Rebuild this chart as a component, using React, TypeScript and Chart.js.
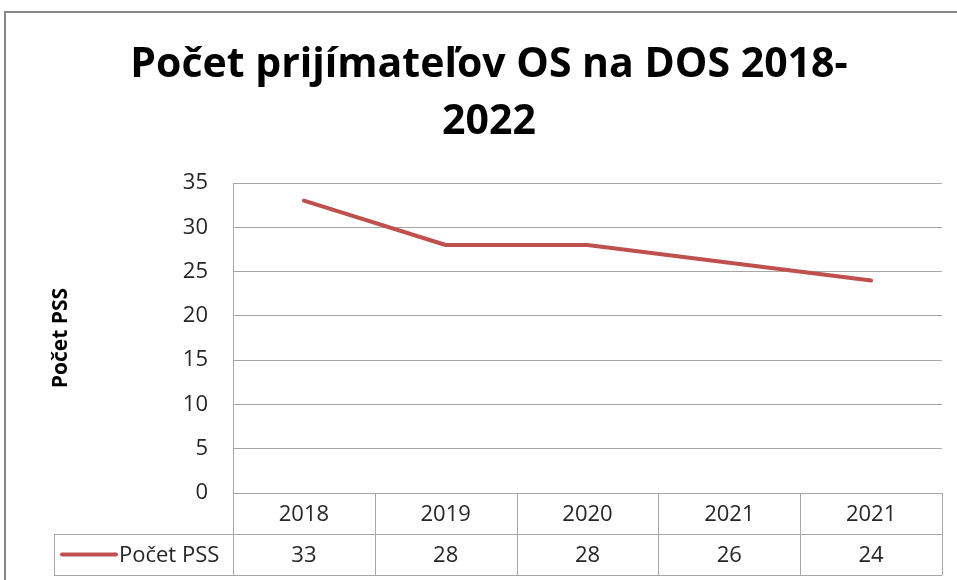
import React, { useEffect, useRef } from "react";
import { Chart, registerables } from "chart.js";

Chart.register(...registerables);

const titleLines = ["Počet prijímateľov OS na DOS 2018-", "2022"];
const yAxisTitle = "Počet PSS";
const seriesName = "Počet PSS";
const categories = ["2018", "2019", "2020", "2021", "2021"];
const values = [33, 28, 28, 26, 24];
const yMin = 0;
const yMax = 35;
const yStep = 5;

const FONT = "'Open Sans', 'Noto Sans', sans-serif";
const GRID = "#a6a6a6";
const LINE = "#c0504d";
const TEXT = "#262626";

const tablePlugin = {
  id: "dataTable",
  beforeDraw(chart: any) {
    const { ctx, width, height } = chart;
    ctx.save();
    ctx.fillStyle = "#ffffff";
    ctx.fillRect(0, 0, width, height);
    ctx.restore();
  },
  afterDraw(chart: any) {
    const { ctx, chartArea } = chart;
    const xs = chart.scales.x;
    const n = categories.length;
    const colW = (chartArea.right - chartArea.left) / n;
    const top = chartArea.bottom;
    const rowH = 41;
    const r1 = top + rowH;
    const r2 = r1 + rowH;
    const legendLeft = 54;

    ctx.save();
    // outer chart border
    ctx.strokeStyle = "#868686";
    ctx.lineWidth = 2;
    ctx.strokeRect(5, 12, 2000, 2000);

    // title
    ctx.fillStyle = "#000000";
    ctx.font = `bold 41px ${FONT}`;
    ctx.textAlign = "center";
    ctx.textBaseline = "middle";
    ctx.fillText(titleLines[0], 489, 65);
    ctx.fillText(titleLines[1], 489, 122);

    ctx.strokeStyle = GRID;
    ctx.lineWidth = 1;
    ctx.beginPath();
    ctx.moveTo(Math.round(chartArea.left) + 0.5, chartArea.top);
    ctx.lineTo(Math.round(chartArea.left) + 0.5, r2);
    ctx.moveTo(chartArea.left, Math.round(top) + 0.5);
    ctx.lineTo(chartArea.right, Math.round(top) + 0.5);
    ctx.moveTo(legendLeft, Math.round(r1) + 0.5);
    ctx.lineTo(chartArea.right, Math.round(r1) + 0.5);
    ctx.moveTo(legendLeft, Math.round(r2) + 0.5);
    ctx.lineTo(chartArea.right, Math.round(r2) + 0.5);
    ctx.moveTo(legendLeft + 0.5, r1);
    ctx.lineTo(legendLeft + 0.5, r2);
    for (let i = 1; i <= n; i++) {
      const x = Math.round(xs.getPixelForValue(i - 1) + colW / 2) + 0.5;
      ctx.moveTo(x, top);
      ctx.lineTo(x, r2);
    }
    ctx.stroke();

    ctx.fillStyle = TEXT;
    ctx.font = `22px ${FONT}`;
    ctx.textAlign = "center";
    ctx.textBaseline = "middle";
    for (let i = 0; i < n; i++) {
      const cx = xs.getPixelForValue(i);
      ctx.fillText(categories[i], cx, top + rowH / 2 + 1);
      ctx.fillText(String(values[i]), cx, r1 + rowH / 2 + 1);
    }

    ctx.strokeStyle = LINE;
    ctx.lineWidth = 4;
    ctx.lineCap = "round";
    ctx.beginPath();
    ctx.moveTo(62, r1 + rowH / 2);
    ctx.lineTo(116, r1 + rowH / 2);
    ctx.stroke();
    ctx.textAlign = "left";
    ctx.fillText(seriesName, 119, r1 + rowH / 2 + 1);
    ctx.restore();
  },
};

export default function App() {
  const ref = useRef<HTMLCanvasElement | null>(null);

  useEffect(() => {
    if (!ref.current) return;
    const chart = new Chart(ref.current, {
      type: "line",
      data: {
        labels: categories,
        datasets: [
          {
            label: seriesName,
            data: values,
            borderColor: LINE,
            backgroundColor: LINE,
            borderWidth: 4,
            pointRadius: 0,
            pointHoverRadius: 0,
            tension: 0,
            borderCapStyle: "round",
            borderJoinStyle: "round",
          },
        ],
      },
      options: {
        responsive: false,
        animation: false,
        layout: { padding: { left: 0, right: 15, top: 183, bottom: 0 } },
        plugins: {
          legend: { display: false },
          tooltip: { enabled: false },
          title: { display: false },
        },
        scales: {
          x: {
            type: "category",
            offset: true,
            ticks: { display: false },
            grid: { display: false },
            border: { display: false },
            afterFit(scale: any) {
              scale.height = 87;
            },
          },
          y: {
            min: yMin,
            max: yMax,
            ticks: {
              stepSize: yStep,
              padding: 25,
              color: TEXT,
              font: { family: FONT, size: 22 },
            },
            grid: { color: GRID, drawTicks: false, lineWidth: 1 },
            border: { display: true, color: GRID },
            title: {
              display: true,
              text: yAxisTitle,
              color: "#000000",
              font: { family: FONT, size: 21, weight: "bold" },
              padding: { top: 48, bottom: 0 },
            },
            afterFit(scale: any) {
              scale.width = 233;
            },
          },
        },
      },
      plugins: [tablePlugin],
    });
    return () => chart.destroy();
  }, []);

  return (
    <div style={{ position: "fixed", left: 0, top: 0, width: 957, height: 580, background: "#fff" }}>
      <canvas ref={ref} width={957} height={580} style={{ display: "block" }} />
    </div>
  );
}
